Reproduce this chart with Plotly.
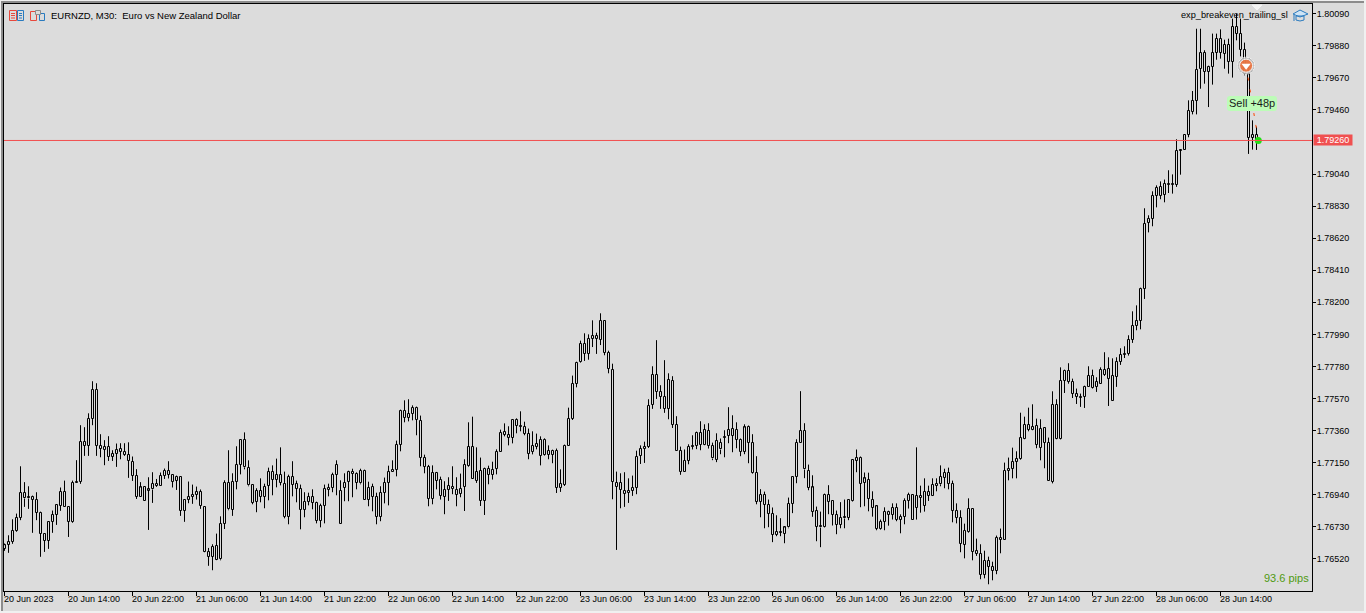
import numpy as np
import plotly.graph_objects as go

# EURNZD M30 bars, prices in points (1e-5)
highs = [
    176620,176674,176779,176816,177126,177022,176995,176934,176956,176829,
    176685,176764,176836,176877,176987,177032,176862,177032,177166,177395,
    177382,177473,177683,177670,177336,177297,177323,177231,177275,177277,
    177277,177283,177190,177107,177022,176987,177054,177087,177043,177085,
    177111,177159,177072,177065,177059,176908,177026,177006,176993,176974,
    176862,176591,176615,176685,176798,177034,177231,177080,177257,177300,
    177348,177165,177006,176982,177047,177012,177117,177132,177176,177250,
    177091,177071,177159,177032,177006,176956,176953,176975,176894,176881,
    177006,177012,177084,177165,177034,177080,177097,177110,177086,177110,
    177104,177025,177012,176953,176995,177052,177130,177165,177294,177497,
    177558,177565,177525,177517,177458,177202,177135,177132,177089,177058,
    177028,177054,177126,177054,177078,177172,177414,177451,177250,177183,
    177117,177130,177156,177237,177366,177407,177388,177432,177440,177486,
    177418,177373,177355,177340,177322,177309,177263,177235,177242,177106,
    177268,177510,177720,177811,177949,177997,177990,178082,178001,178128,
    178080,177883,177798,177091,177080,177087,177047,177065,177228,177263,
    177287,177565,177781,177952,177657,177821,177735,177716,177454,177255,
    177236,177270,177329,177353,177421,177401,177408,177281,177342,177308,
    177362,177513,177460,177414,177308,177401,177393,177336,177192,176976,
    176960,176908,176856,176805,176786,176731,176921,177059,177303,177618,
    177408,177137,177067,176862,176829,176947,177002,176901,176836,176891,
    176908,176908,177170,177236,177190,177085,177084,176962,176868,176777,
    176857,176835,176883,176883,176811,176916,176953,176940,177250,176999,
    177047,176999,177047,177047,177132,177110,177117,177032,176883,176838,
    176750,176916,176849,176652,176615,176573,176534,176501,176672,176718,
    177150,177183,177248,177224,177477,177451,177510,177532,177438,177434,
    177379,177314,177617,177565,177774,177759,177801,177700,177635,177602,
    177654,177781,177759,177709,177774,177873,177840,177833,177840,177899,
    177912,177984,178141,178180,178296,178816,178770,178927,178966,178992,
    179004,179065,179038,179268,179200,179300,179523,179584,179992,179992,
    179851,179750,179960,179960,179988,179920,179927,180058,180091,180058,
    179901,179741,179392,179351,
]
lows = [
    176572,176559,176618,176696,176773,176860,176847,176690,176773,176533,
    176565,176585,176690,176742,176834,176862,176663,176755,177019,177011,
    177194,177194,177395,177194,177185,177133,177161,177161,177122,177172,
    177194,177050,177030,176912,176925,176901,176709,176886,176991,176997,
    177043,177046,176987,176971,176801,176762,176884,176880,176908,176847,
    176563,176474,176445,176511,176510,176715,176838,176801,176975,177073,
    177106,176995,176877,176825,176890,176851,176903,176936,176988,177001,
    176785,176746,176929,176890,176713,176792,176870,176844,176752,176726,
    176752,176929,176956,176936,176750,176897,176897,176923,176975,177008,
    176908,176864,176831,176746,176766,176883,176870,177089,177060,177224,
    177414,177420,177427,177329,177126,177080,176864,176877,176975,176908,
    176812,176899,176943,176864,176923,176833,177121,177045,177017,176866,
    176807,177008,177039,177073,177222,177322,177263,177276,177342,177355,
    177329,177172,177204,177237,177132,177196,177172,177146,176951,176958,
    176997,177261,177429,177643,177805,177816,177824,177907,177862,177920,
    177853,177735,176910,176578,176851,176860,176886,176932,176943,177141,
    177148,177246,177502,177567,177502,177476,177434,177377,177229,177070,
    177089,177139,177236,177238,177231,177264,177242,177166,177153,177205,
    177185,177277,177218,177244,177192,177205,177146,177076,176877,176792,
    176720,176727,176629,176668,176668,176622,176720,176819,177015,177281,
    177048,176969,176795,176635,176596,176722,176812,176738,176681,176720,
    176720,176773,176895,177087,176858,176864,176831,176796,176707,176711,
    176707,176737,176777,176766,176687,176746,176849,176777,176777,176822,
    176829,176899,176931,176962,176995,176982,176975,176759,176752,176563,
    176523,176691,176510,176539,176386,176392,176353,176379,176419,176556,
    176646,177034,177047,177047,177169,177303,177355,177362,177244,177165,
    177113,177032,177014,177303,177300,177606,177667,177573,177534,177515,
    177508,177646,177635,177613,177667,177718,177521,177556,177646,177790,
    177835,177851,177934,178017,178023,178222,178658,178698,178822,178875,
    178855,178916,178912,178956,179036,179200,179281,179431,179431,179599,
    179632,179479,179626,179789,179796,179730,179698,179672,179916,179811,
    179687,179172,179200,179198,
]
opens = [
    176587,176613,176631,176701,176788,176954,176915,176928,176908,176823,
    176685,176637,176764,176810,176869,176960,176862,176760,177019,177024,
    177288,177259,177438,177628,177259,177255,177255,177187,177209,177242,
    177222,177203,177157,177065,176925,176987,176967,176974,177013,176997,
    177065,177098,177072,177032,177059,176836,176908,176928,176941,176960,
    176862,176567,176535,176607,176517,176750,177019,176842,177025,177137,
    177300,177117,177006,176894,176966,176927,176999,177091,177038,177071,
    177012,176796,177058,177012,176980,176842,176894,176927,176888,176770,
    176868,176973,176986,177071,176966,176986,177025,177091,177078,177014,
    177097,176908,176927,176927,176796,176953,177019,177091,177104,177268,
    177490,177442,177471,177510,177425,177183,177124,176914,177084,177039,
    176927,176973,176993,176973,176947,176993,177126,177255,177032,177097,
    176901,177111,177071,177111,177222,177353,177333,177314,177432,177392,
    177386,177340,177222,177255,177301,177202,177228,177202,177228,176986,
    177006,177261,177436,177667,177811,177929,177864,177962,177982,177955,
    178080,177870,177759,177019,176973,176966,176953,176966,176986,177196,
    177242,177255,177530,177727,177615,177583,177504,177687,177397,177229,
    177091,177163,177255,177262,177347,177266,177360,177262,177170,177281,
    177312,177327,177373,177366,177301,177222,177386,177281,177085,176893,
    176941,176875,176816,176679,176694,176685,176725,176882,177059,177281,
    177360,177098,176987,176836,176738,176725,176941,176901,176810,176744,
    176784,176790,176901,177163,177183,177017,177038,176908,176864,176718,
    176763,176829,176809,176855,176777,176796,176901,176940,176855,176934,
    176868,176960,176934,176999,177008,177052,177084,177012,176835,176790,
    176613,176696,176849,176573,176554,176416,176508,176469,176442,176659,
    176646,177097,177110,177156,177176,177307,177399,177366,177392,177248,
    177379,177281,177025,177530,177303,177687,177752,177680,177602,177582,
    177580,177648,177720,177648,177667,177759,177766,177720,177713,177811,
    177857,177864,177956,178047,178080,178290,178722,178748,178899,178958,
    178905,178975,178971,178971,179193,179200,179298,179449,179521,179730,
    179835,179711,179744,179835,179927,179829,179888,179776,180006,179960,
    179855,179693,179279,179298,
]
closes = [
    176609,176631,176705,176790,176954,176915,176928,176908,176821,176685,
    176637,176764,176810,176875,176960,176862,176764,177019,177024,177288,
    177259,177438,177628,177259,177242,177233,177187,177209,177235,177222,
    177201,177163,177065,176925,176987,176901,176974,177013,176997,177065,
    177098,177070,177026,177059,176836,176908,176928,176941,176960,176869,
    176567,176535,176600,176515,176750,177019,176844,177025,177137,177300,
    177119,177001,176886,176966,176927,176993,177091,177038,177071,177019,
    176794,177058,177006,176980,176842,176894,176927,176888,176770,176868,
    176980,176986,177071,177137,176750,177019,177091,177078,177019,177097,
    176908,176986,176993,176796,176953,177019,177091,177104,177268,177490,
    177442,177471,177510,177429,177183,177124,176914,177084,177032,176934,
    176973,176999,176980,176940,176980,177137,177255,177045,177091,176901,
    177111,177071,177104,177222,177346,177333,177314,177432,177392,177386,
    177338,177209,177261,177274,177196,177301,177202,177228,176986,177012,
    177261,177438,177667,177805,177929,177864,177962,177982,177962,178080,
    177870,177765,177025,176993,177019,176947,176966,176986,177189,177242,
    177255,177523,177727,177615,177583,177504,177694,177397,177229,177091,
    177163,177255,177259,177347,177266,177366,177262,177177,177294,177236,
    177314,177366,177327,177301,177222,177380,177281,177080,176893,176941,
    176875,176816,176679,176698,176690,176725,176882,177059,177281,177360,
    177105,176984,176829,176731,176725,176941,176895,176810,176744,176790,
    176790,176908,177170,177183,177013,177046,176914,176855,176718,176763,
    176829,176809,176855,176777,176796,176901,176940,176777,176934,176921,
    176960,176934,177006,177012,177058,177084,177012,176835,176790,176619,
    176704,176849,176567,176554,176416,176508,176469,176442,176659,176646,
    177097,177110,177156,177176,177314,177399,177366,177386,177268,177372,
    177281,177032,177530,177307,177687,177752,177680,177602,177580,177576,
    177648,177720,177641,177680,177759,177724,177700,177556,177811,177857,
    177864,177956,178047,178080,178290,178715,178748,178899,178951,178899,
    178977,178971,178975,179193,179200,179298,179455,179521,179724,179835,
    179711,179744,179835,179927,179835,179888,179776,180006,179960,179855,
    179693,179279,179298,179260,
]

price_ticks = [1.80090, 1.79880, 1.79670, 1.79460, 1.79040, 1.78830, 1.78620, 1.78410, 1.78200,
               1.77990, 1.77780, 1.77570, 1.77360, 1.77150, 1.76940, 1.76730, 1.76520]
time_labels = ["20 Jun 2023", "20 Jun 14:00", "20 Jun 22:00", "21 Jun 06:00", "21 Jun 14:00",
               "21 Jun 22:00", "22 Jun 06:00", "22 Jun 14:00", "22 Jun 22:00", "23 Jun 06:00",
               "23 Jun 14:00", "23 Jun 22:00", "26 Jun 06:00", "26 Jun 14:00", "26 Jun 22:00",
               "27 Jun 06:00", "27 Jun 14:00", "27 Jun 22:00", "28 Jun 06:00", "28 Jun 14:00"]
time_ticks = [16 * i for i in range(len(time_labels))]

last_price = 1.79260
entry_bar, entry_price = 310.4, 1.79750
exit_bar, exit_price = 313.45, 1.79260

BG = "#dcdcdc"
FONT = "Liberation Sans"
W, H = 1366, 613
L, R, T, B = 4, 54, 4, 22
PW, PH = W - L - R, H - T - B


# window pixels to paper coordinates, only used for the decorations
def fx(x):
    return (x - L) / PW


def fy(y):
    return 1 - (y - T) / PH


def rect(x0, y0, x1, y1, color, fill=None, width=1):
    return dict(type="rect", xref="paper", yref="paper", x0=fx(x0), y0=fy(y0), x1=fx(x1), y1=fy(y1),
                line=dict(color=color, width=width), fillcolor=fill, layer="above")


def seg(x0, y0, x1, y1, color, width=1):
    return dict(type="line", xref="paper", yref="paper", x0=fx(x0), y0=fy(y0), x1=fx(x1), y1=fy(y1),
                line=dict(color=color, width=width), layer="above")


def poly(points, color, fill=None, width=1):
    d = "M" + " L".join(f"{fx(x)},{fy(y)}" for x, y in points) + " Z"
    return dict(type="path", xref="paper", yref="paper", path=d,
                line=dict(color=color, width=width), fillcolor=fill, layer="above")


def round_box(x0, y0, x1, y1, r, fill):
    d = (f"M{fx(x0 + r)},{fy(y0)} L{fx(x1 - r)},{fy(y0)} Q{fx(x1)},{fy(y0)} {fx(x1)},{fy(y0 + r)} "
         f"L{fx(x1)},{fy(y1 - r)} Q{fx(x1)},{fy(y1)} {fx(x1 - r)},{fy(y1)} "
         f"L{fx(x0 + r)},{fy(y1)} Q{fx(x0)},{fy(y1)} {fx(x0)},{fy(y1 - r)} "
         f"L{fx(x0)},{fy(y0 + r)} Q{fx(x0)},{fy(y0)} {fx(x0 + r)},{fy(y0)} Z")
    return dict(type="path", xref="paper", yref="paper", path=d, line=dict(width=0), fillcolor=fill, layer="above")


bars = np.arange(len(closes))
o, h, l, c = (np.array(a) / 1e5 for a in (opens, highs, lows, closes))
body_top = np.maximum(o, c)
body_bot = np.minimum(o, c)

# scatter always sits above bars, so the wicks stop at the body edges
wick_x, wick_y = [], []
for i in bars:
    wick_x += [i, i, None, i, i, None]
    wick_y += [body_top[i], h[i], None, body_bot[i], l[i], None]

fig = go.Figure()

fig.add_trace(go.Scatter(x=wick_x, y=wick_y, mode="lines", line=dict(color="black", width=1),
                         hoverinfo="skip", showlegend=False))
fig.add_trace(go.Bar(
    x=bars,
    y=np.maximum(body_top - body_bot, 0.00007),
    base=body_bot,
    width=0.5,
    offset=-0.1875,
    marker=dict(color=BG, line=dict(color="black", width=1)),
    showlegend=False,
))

# trade: dashed link, entry badge, exit dot
fig.add_trace(go.Scatter(x=[entry_bar, exit_bar], y=[entry_price, exit_price], mode="lines",
                         line=dict(color="#ff4500", width=1, dash="3px,9px"), showlegend=False))
fig.add_trace(go.Scatter(x=[entry_bar] * 3, y=[entry_price] * 3, mode="markers",
                         marker=dict(size=[17, 15, 13], color=["#202020", "#ffffff", "#f4550f"]),
                         showlegend=False))
fig.add_trace(go.Scatter(x=[entry_bar], y=[entry_price], mode="markers",
                         marker=dict(size=8, color="white", symbol="triangle-down"), showlegend=False))
fig.add_trace(go.Scatter(x=[exit_bar], y=[exit_price], mode="markers",
                         marker=dict(size=7, color="#22e016"), showlegend=False))

shapes = [
    # current price line
    dict(type="line", xref="paper", yref="y", x0=0, x1=1, y0=last_price, y1=last_price,
         line=dict(color="#f25050", width=1)),
    # window edge
    rect(0, 0, 3, H, "#f0f0f0", "#f0f0f0", 0),
    rect(0, 0, W, 3, "#f0f0f0", "#f0f0f0", 0),
    rect(1, 1, 3, H, "#8c8c8c", "#8c8c8c", 0),
    rect(1, 1, W, 3, "#8c8c8c", "#8c8c8c", 0),
    rect(W - 2, 0, W, H, "#f0f0f0", "#f0f0f0", 0),
    rect(0, H - 2, W, H, "#f0f0f0", "#f0f0f0", 0),
    # chart shift marker
    poly([(1252, 5), (1262, 5), (1257, 10)], "#f4f4f4", "#f4f4f4"),
    # toolbar icons
    rect(9.5, 10.5, 16.5, 20.5, "#e8483c"),
    rect(17.5, 10.5, 23.5, 20.5, "#2a7bbf"),
    seg(11, 13.5, 15, 13.5, "#e8483c"), seg(11, 15.5, 15, 15.5, "#e8483c"), seg(11, 18, 15, 18, "#e8483c"),
    seg(19, 13.5, 22, 13.5, "#2a7bbf"), seg(19, 15.5, 22, 15.5, "#2a7bbf"), seg(19, 18, 22, 18, "#2a7bbf"),
    rect(30.5, 11.5, 36.5, 20.5, "#e8483c"),
    rect(39.5, 13.5, 44.5, 20.5, "#2a7bbf"),
    rect(35.5, 10.5, 40.5, 14.5, "#8c8c8c", "#dcdcdc"),
    # graduation cap
    poly([(1293, 14), (1300, 10), (1308, 14), (1300, 17)], "#2a7bbf", "#cfe4f5"),
    poly([(1296, 16), (1296, 20), (1300, 21), (1304, 20), (1304, 16)], "#2a7bbf"),
    seg(1294, 15, 1294, 21, "#2a7bbf"),
    # sell label box
    round_box(1227, 96, 1277, 111, 3, "#bdfcb8"),
]

annotations = [
    dict(xref="paper", yref="paper", x=fx(49), y=fy(15.5), xanchor="left", yanchor="middle",
         text="EURNZD, M30:  Euro vs New Zealand Dollar", showarrow=False,
         font=dict(family=FONT, size=9.5, color="black")),
    dict(xref="paper", yref="paper", x=fx(1290), y=fy(15.5), xanchor="right", yanchor="middle",
         text="exp_breakeven_trailing_sl", showarrow=False,
         font=dict(family=FONT, size=9.2, color="black")),
    dict(xref="paper", yref="paper", x=fx(1311), y=fy(578), xanchor="right", yanchor="middle",
         text="93.6 pips", showarrow=False, font=dict(family=FONT, size=11, color="#4f9a10")),
    dict(xref="paper", yref="paper", x=fx(1252), y=fy(103.5), xanchor="center", yanchor="middle",
         text="Sell +48p", showarrow=False, font=dict(family=FONT, size=11, color="#1a1a1a")),
    dict(xref="paper", yref="y", x=fx(1333), y=last_price, xanchor="center", yanchor="middle",
         text=f"{last_price:.5f}", showarrow=False, bgcolor="#f05050", width=36, height=8,
         font=dict(family=FONT, size=9, color="white")),
]
for t, label in zip(time_ticks, time_labels):
    annotations.append(dict(xref="x", yref="paper", x=t, y=0, xanchor="left", yanchor="top", yshift=-1,
                            xshift=-3, text=label, showarrow=False,
                            font=dict(family=FONT, size=9, color="black")))

fig.update_layout(
    width=W,
    height=H,
    margin=dict(l=L, r=R, t=T, b=B, pad=0),
    paper_bgcolor=BG,
    plot_bgcolor=BG,
    showlegend=False,
    bargap=0,
    shapes=shapes,
    annotations=annotations,
    xaxis=dict(
        range=[-0.125, 326.875], showgrid=False, zeroline=False,
        showline=True, mirror=True, linecolor="black", linewidth=1,
        tickmode="array", tickvals=time_ticks, ticks="outside", ticklen=4, tickcolor="black",
        showticklabels=False,
    ),
    yaxis=dict(
        side="right", range=[1.76309, 1.80154], showgrid=False, zeroline=False,
        showline=True, mirror=True, linecolor="black", linewidth=1,
        tickmode="array", tickvals=price_ticks, ticktext=[f"{p:.5f}" for p in price_ticks],
        ticks="outside", ticklen=3, tickcolor="black", ticklabelstandoff=-1,
        tickfont=dict(family=FONT, size=9, color="black"),
    ),
)

fig.write_html("out.html", config={"displayModeBar": False},
               post_script="document.body.style.margin='0';document.body.style.overflow='hidden';")
